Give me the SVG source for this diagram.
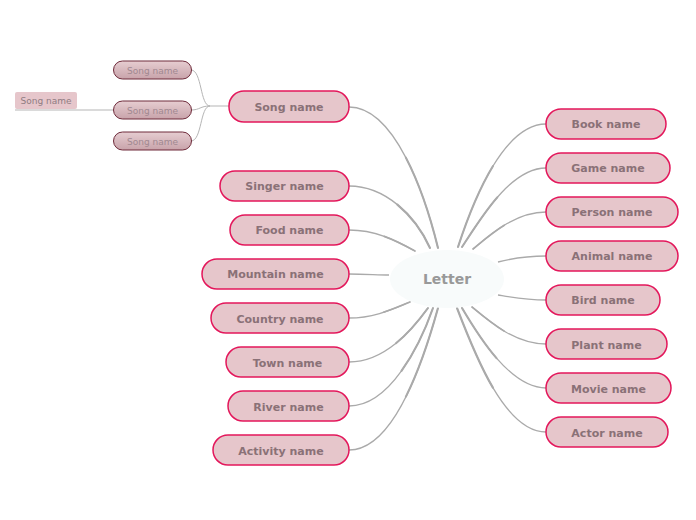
<svg xmlns="http://www.w3.org/2000/svg" width="696" height="520" viewBox="0 0 696 520">
<defs>
<linearGradient id="sg" x1="0" y1="0" x2="0" y2="1">
<stop offset="0" stop-color="#e6cdd1"/>
<stop offset="1" stop-color="#c8a3aa"/>
</linearGradient>
</defs>
<style>
.n rect{fill:#e6c6cb;stroke:#e3175b;stroke-width:1.5}
.n text{font-family:"DejaVu Sans",Verdana,sans-serif;font-size:11px;font-weight:bold;fill:#8a7177;text-anchor:middle}
.s rect{fill:url(#sg);stroke:#6e2a3a;stroke-width:1}
.s text{font-family:"DejaVu Sans",Verdana,sans-serif;font-size:9px;fill:#a08890;text-anchor:middle}
.c path{fill:none;stroke:#aaaaaa;stroke-width:1.3}
.c path.h{stroke-width:2.1;stroke-linecap:round}
.c path.q{stroke-width:1.7;stroke-linecap:round}
.c path.t{stroke-width:1;stroke:#b5b5b5}
</style>
<rect width="696" height="520" fill="#ffffff"/>
<g class="c" id="connectors">
<path d="M349,107 C395,107 425,195 438,248"/>
<path d="M349,186 C385,186 415,215 430,248"/>
<path d="M349,230 C375,230 395,240 415,251"/>
<path d="M349,274 C365,274 378,275 389,275"/>
<path d="M349,318 C375,318 395,308 410,302"/>
<path d="M349,362 C385,362 412,330 428,308"/>
<path d="M349,406 C390,406 420,345 433,308"/>
<path d="M349,450 C395,450 425,355 438,308"/>
<path d="M546,124 C505,124 475,195 458,247"/>
<path d="M546,168 C510,168 480,220 462,247"/>
<path d="M546,212 C515,212 490,235 473,249"/>
<path d="M546,256 C525,256 510,259 498,262"/>
<path d="M546,300 C525,300 510,297 498,295"/>
<path d="M546,344 C515,344 490,322 472,307"/>
<path d="M546,388 C510,388 478,335 462,308"/>
<path d="M546,432 C505,432 475,355 457,308"/>
<path class="h" d="M405.88,157.63 C420.75,186.25 431.5,221.5 438,248"/>
<path class="h" d="M397.38,204.63 C411.25,216 422.5,231.5 430,248"/>
<path class="q" d="M384.25,236.38 C395,240.25 405,245.5 415,251"/>
<path class="q" d="M383.63,312.25 C393.75,309 402.5,305 410,302"/>
<path class="h" d="M396,343.25 C409.25,332.5 420,319 428,308"/>
<path class="h" d="M401.5,370.88 C415.75,351 426.5,326.5 433,308"/>
<path class="h" d="M405.88,396.63 C420.75,367 431.5,331.5 438,308"/>
<path class="h" d="M493,166 C478.25,190.25 466.5,221 458,247"/>
<path class="h" d="M497.25,197.38 C483,213.75 471,233.5 462,247"/>
<path class="q" d="M504.25,225.25 C492,232.75 481.5,242 473,249"/>
<path class="q" d="M504.13,331.13 C492,323.75 481,314.5 472,307"/>
<path class="h" d="M496.5,358.13 C482,341.5 470,321.5 462,308"/>
<path class="h" d="M492.88,387.63 C478,362.5 466,331.5 457,308"/>
<path class="t" d="M229,106 L210,106"/>
<path class="t" d="M210,106 C200,106 202,70 191,70"/>
<path class="t" d="M210,106 C200,106 200,110 191,110"/>
<path class="t" d="M210,106 C200,106 202,141 191,141"/>
<path class="t" d="M113,110 L15,110"/>
</g>
<g id="center">
<ellipse cx="447" cy="279" rx="57" ry="29" fill="#f8fbfb"/>
<text x="447" y="284" font-family="DejaVu Sans,Verdana,sans-serif" font-size="14" font-weight="bold" fill="#999999" text-anchor="middle">Letter</text>
</g>
<g id="song" class="n"><rect x="229" y="91" width="120" height="31" rx="15"/><text x="289" y="111">Song name</text></g>
<g id="singer" class="n"><rect x="220" y="171" width="129" height="30" rx="15"/><text x="284.5" y="190">Singer name</text></g>
<g id="food" class="n"><rect x="230" y="215" width="119" height="30" rx="15"/><text x="289.5" y="234">Food name</text></g>
<g id="mountain" class="n"><rect x="202" y="259" width="147" height="30" rx="15"/><text x="275.5" y="278">Mountain name</text></g>
<g id="country" class="n"><rect x="211" y="303" width="138" height="30" rx="15"/><text x="280" y="323">Country name</text></g>
<g id="town" class="n"><rect x="226" y="347" width="123" height="30" rx="15"/><text x="287.5" y="367">Town name</text></g>
<g id="river" class="n"><rect x="228" y="391" width="121" height="30" rx="15"/><text x="288.5" y="411">River name</text></g>
<g id="activity" class="n"><rect x="213" y="435" width="136" height="30" rx="15"/><text x="281" y="455">Activity name</text></g>
<g id="book" class="n"><rect x="546" y="109" width="120" height="30" rx="15"/><text x="606" y="128">Book name</text></g>
<g id="game" class="n"><rect x="546" y="153" width="124" height="30" rx="15"/><text x="608" y="172">Game name</text></g>
<g id="person" class="n"><rect x="546" y="197" width="132" height="30" rx="15"/><text x="612" y="216">Person name</text></g>
<g id="animal" class="n"><rect x="546" y="241" width="132" height="30" rx="15"/><text x="612" y="260">Animal name</text></g>
<g id="bird" class="n"><rect x="546" y="285" width="114" height="30" rx="15"/><text x="603" y="304">Bird name</text></g>
<g id="plant" class="n"><rect x="546" y="329" width="121" height="30" rx="15"/><text x="606.5" y="349">Plant name</text></g>
<g id="movie" class="n"><rect x="546" y="373" width="125" height="30" rx="15"/><text x="608.5" y="393">Movie name</text></g>
<g id="actor" class="n"><rect x="546" y="417" width="122" height="30" rx="15"/><text x="607" y="437">Actor name</text></g>
<g id="song1" class="s"><rect x="113.5" y="61" width="78" height="18" rx="9"/><text x="152.5" y="74">Song name</text></g>
<g id="song2" class="s"><rect x="113.5" y="101" width="78" height="18" rx="9"/><text x="152.5" y="114">Song name</text></g>
<g id="song3" class="s"><rect x="113.5" y="132" width="78" height="18" rx="9"/><text x="152.5" y="145">Song name</text></g>
<g id="song4"><rect x="15" y="92" width="62" height="17" rx="2" fill="#e6c6cb"/><text x="46" y="104" font-family="DejaVu Sans,Verdana,sans-serif" font-size="9" fill="#8f7c82" text-anchor="middle">Song name</text></g>
</svg>
